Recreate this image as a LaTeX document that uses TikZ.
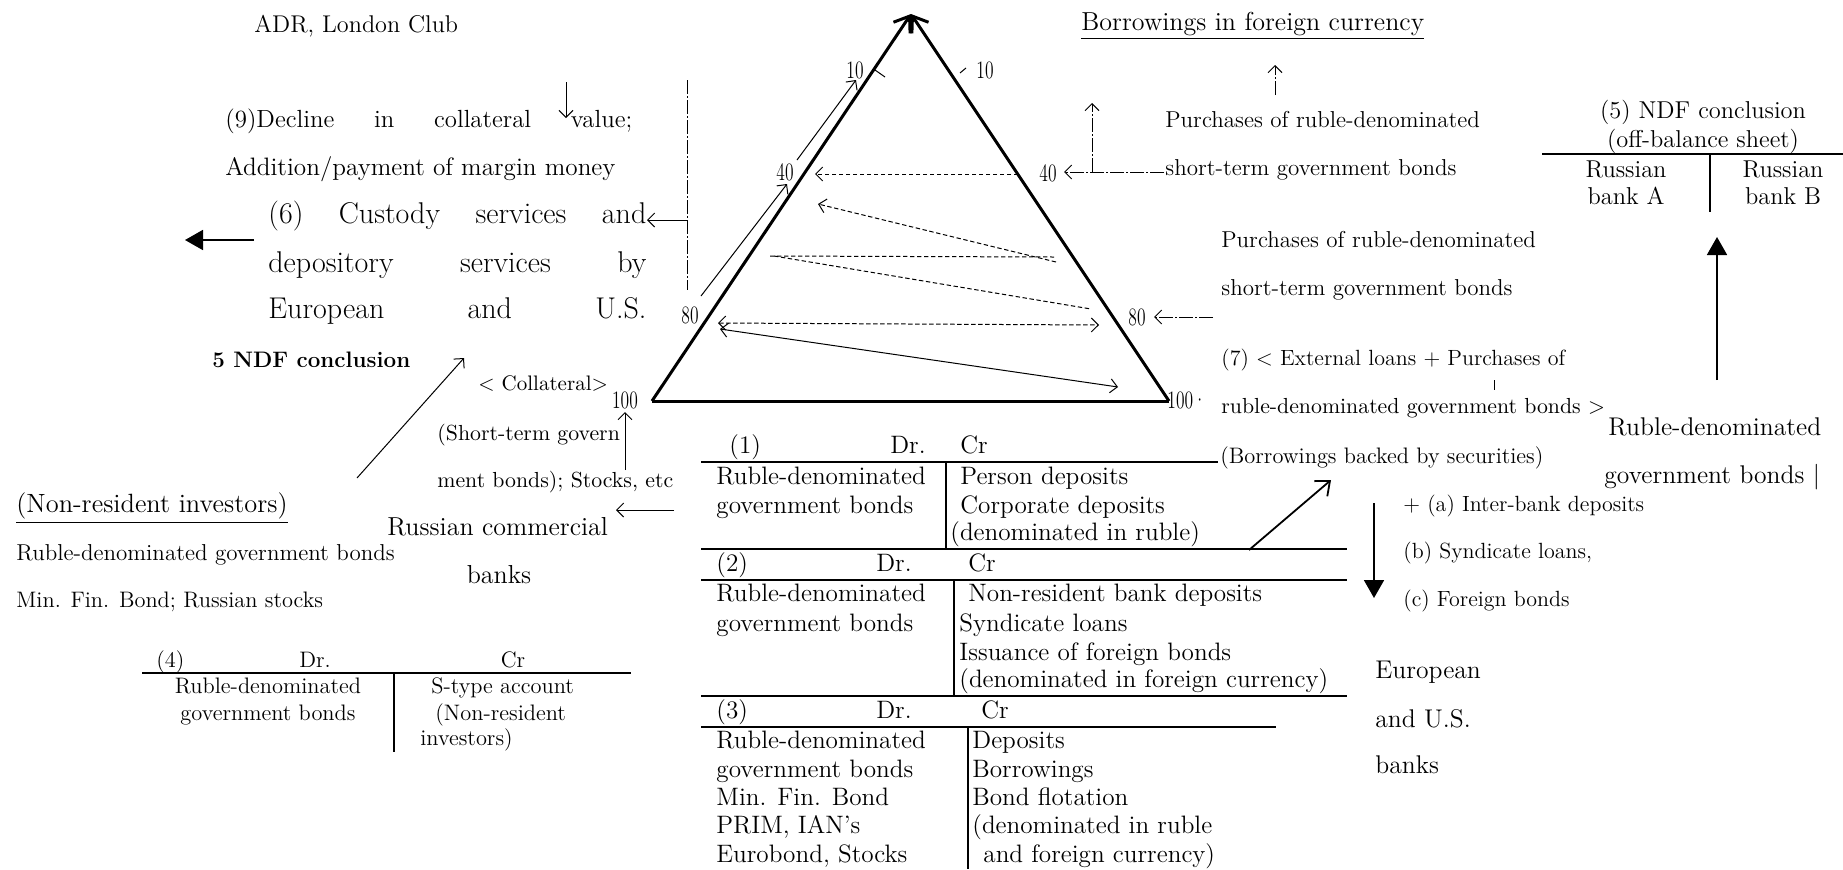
\documentclass[tikz,border=0pt]{standalone}
\usepackage{amssymb,amsmath}
\usepackage{graphicx}
\usepackage{tikz}
\usetikzlibrary{calc}
\usetikzlibrary{arrows.meta}

\newcommand{\fs}[1]{\fontsize{#1}{#1}\selectfont}
\newcommand{\tnum}[1]{\scalebox{0.7}[1]{#1}}
\newcommand{\jline}[2]{\makebox[#1][s]{#2}}

\begin{document}
\begin{tikzpicture}[x=0.5pt,y=-0.5pt,>={Straight Barb[length=3.5pt,width=7pt]},
	txt/.style={inner sep=0pt,anchor=west,text height=0.72em,text depth=0.22em,font=\fs{12.6}},
	sml/.style={txt,font=\fs{11.2}},
	numlab/.style={inner sep=0pt,font=\fs{12.5}},
	fine/.style={line width=0.5pt},
	dsh/.style={line width=0.5pt,dash pattern=on 2.2pt off 1.3pt},
	dshdot/.style={line width=0.5pt,dash pattern=on 7pt off 1pt on 1pt off 1pt},
	rule/.style={line width=1.1pt},
	tri/.style={line width=1.5pt},
	fat/.style={line width=0.9pt,-{Triangle[length=9pt,width=10pt]}}]
		\useasboundingbox (0,0) rectangle (1843,869);
		% triangle
		\coordinate (A) at (911,14);
		\coordinate (B) at (652,401);
		\coordinate (C) at (1169,401);
		\draw[tri,-{Straight Barb[length=7pt,width=10pt]}] (B)--(A);
		\draw[tri,-{Straight Barb[length=7pt,width=10pt]}] (C)--(A);
		\draw[tri] (B)--(C);
		\node[numlab] (l10) at (855,70) {\tnum{10}};
		\node[numlab] (r10) at (985,70) {\tnum{10}};
		\node[numlab] (l40) at (785,172) {\tnum{40}};
		\node[numlab] (r40) at (1048,173) {\tnum{40}};
		\node[numlab] (l80) at (690,315) {\tnum{80}};
		\node[numlab] (r80) at (1137,317) {\tnum{80}};
		\node[numlab] (l100) at (625,400) {\tnum{100}};
		\node[numlab] (r100) at (1187,400) {\tnum{100·}};
		\coordinate (T1) at (875,70);
		\coordinate (T2) at (885,77);
		\coordinate (T3) at (960,73);
		\coordinate (T4) at (966,68);
		\draw[fine] (T1)--(T2);
		\draw[fine] (T3)--(T4);
		% moves inside the triangle
		\coordinate (D1) at (701,296);
		\coordinate (D2) at (787,184);
		\coordinate (D3) at (797,160);
		\coordinate (D4) at (856,80);
		\draw[fine,->] (D1)--(D2);
		\draw[fine,->] (D3)--(D4);
		\coordinate (E1) at (1018,174);
		\coordinate (E2) at (815,174);
		\coordinate (E3) at (1056,262);
		\coordinate (E4) at (818,204);
		\coordinate (E5) at (770,256);
		\coordinate (E6) at (1054,257);
		\coordinate (E7) at (774,256);
		\coordinate (E8) at (1091,309);
		\coordinate (E9) at (718,323);
		\coordinate (E10) at (1099,325);
		\draw[dsh,->] (E1)--(E2);
		\draw[dsh,->] (E3)--(E4);
		\draw[dsh] (E5)--(E6);
		\draw[dsh] (E7)--(E8);
		\draw[dsh,<->] (E9)--(E10);
		\coordinate (F1) at (720,329);
		\coordinate (F2) at (1118,387);
		\draw[fine,<->] (F1)--(F2);
		% right of the triangle
		\coordinate (G1) at (1164,172);
		\coordinate (G2) at (1064,172);
		\coordinate (G3) at (1092,172);
		\coordinate (G4) at (1092,103);
		\draw[dshdot,->] (G1)--(G2);
		\draw[dshdot,->] (G3)--(G4);
		\coordinate (G5) at (1213,317);
		\coordinate (G6) at (1154,317);
		\draw[dshdot,->] (G5)--(G6);
		\coordinate (G7) at (1275,95);
		\coordinate (G8) at (1275,65);
		\draw[dshdot,->] (G7)--(G8);
		\node[txt,font=\fs{13}] (borrow) at (1081,25) {\underline{Borrowings in foreign currency}};
		\node[txt,font=\fs{11.5}] (buy1) at (1165,122) {Purchases of ruble-denominated};
		\node[txt,font=\fs{11.5}] (buy1b) at (1165,170) {short-term government bonds};
		\node[txt,font=\fs{11.5}] (buy2) at (1221,242) {Purchases of ruble-denominated};
		\node[txt,font=\fs{11.5}] (buy2b) at (1221,290) {short-term government bonds};
		\node[txt,font=\fs{11}] (ext) at (1221,360) {(7) < External loans + Purchases of};
		\node[txt,font=\fs{10.9}] (extb) at (1221,408) {ruble-denominated government bonds >};
		\node[sml] (backed) at (1220,458) {(Borrowings backed by securities)};
		\coordinate (K1) at (1494,380);
		\coordinate (K2) at (1494,390);
		\draw[fine] (K1)--(K2);
		% left of the triangle
		\node[txt,font=\fs{12.1}] (adr) at (254,27) {ADR, London Club};
		\node[txt,font=\fs{12.4}] (decl) at (225,122) {\jline{203.5pt}{(9)Decline in collateral value;}};
		\node[txt,font=\fs{12.6}] (marg) at (225,170) {Addition/payment of margin money};
		\node[txt,font=\fs{15}] (cust1) at (268,218) {\jline{189pt}{(6) Custody services and}};
		\node[txt,font=\fs{15}] (cust2) at (268,267) {\jline{189pt}{depository services by}};
		\node[txt,font=\fs{15}] (cust3) at (268,313) {\jline{189pt}{European and U.S.}};
		\node[txt,font=\fs{11.2}\bfseries] (ndf) at (212,362) {5 NDF conclusion};
		\coordinate (H1) at (566,82);
		\coordinate (H2) at (566,118);
		\draw[fine,->] (H1)--(H2);
		\coordinate (H3) at (687,80);
		\coordinate (H4) at (687,290);
		\coordinate (H5) at (687,220);
		\coordinate (H6) at (647,220);
		\draw[dshdot] (H3)--(H4);
		\draw[fine,->] (H5)--(H6);
		\coordinate (H7) at (254,240);
		\coordinate (H8) at (185,240);
		\draw[fat] (H7)--(H8);
		\node[txt,font=\fs{10.5}] (coll) at (478,385) {< Collateral>};
		\node[txt,font=\fs{10.9}] (short) at (437,435) {(Short-term govern};
		\node[txt,font=\fs{10.9}] (stock) at (437,482) {ment bonds); Stocks, etc};
		\coordinate (H9) at (625,470);
		\coordinate (H10) at (625,412);
		\draw[fine,->] (H9)--(H10);
		\coordinate (H11) at (674,510);
		\coordinate (H12) at (616,510);
		\draw[fine,->] (H11)--(H12);
		\coordinate (H13) at (357,478);
		\coordinate (H14) at (464,358);
		\draw[fine,->] (H13)--(H14);
		\node[txt,font=\fs{13}] (rcb) at (387,530) {Russian commercial};
		\node[txt,font=\fs{13},anchor=center] (rcb2) at (499,578) {banks};
		\node[txt,font=\fs{13.2}] (nonres) at (16,507) {\underline{(Non-resident investors)}};
		\node[sml,font=\fs{11.5}] (nr1) at (16,555) {Ruble-denominated government bonds};
		\node[sml] (nr2) at (16,602) {Min. Fin. Bond; Russian stocks};
		% table (4)
		\node[sml] (h4) at (156,662) {(4)};
		\node[sml,anchor=center] (h4dr) at (315,662) {Dr.};
		\node[sml,anchor=center] (h4cr) at (513,662) {Cr};
		\draw[rule] (142,673)--(631,673);
		\draw[rule] (394,673)--(394,752);
		\node[sml,anchor=center] (a4l1) at (268,688) {Ruble-denominated};
		\node[sml,anchor=center] (a4l2) at (268,715) {government bonds};
		\node[sml] (a4r1) at (431,688) {S-type account};
		\node[sml] (a4r2) at (435,715) {(Non-resident};
		\node[sml] (a4r3) at (420,740) {investors)};
		% table (1)
		\node[txt] (h1) at (729,448) {(1)};
		\node[txt,anchor=center] (h1dr) at (908,448) {Dr.};
		\node[txt] (h1cr) at (960,448) {Cr};
		\draw[rule] (701,462)--(1218,462);
		\draw[rule] (946,462)--(946,549);
		\node[txt] (a1l1) at (716,479) {Ruble-denominated};
		\node[txt] (a1l2) at (716,508) {government bonds};
		\node[txt] (a1r1) at (960,479) {Person deposits};
		\node[txt] (a1r2) at (960,508) {Corporate deposits};
		\node[txt] (a1r3) at (950,535) {(denominated in ruble)};
		\draw[rule] (701,549)--(1347,549);
		% table (2)
		\node[txt] (h2) at (716,566) {(2)};
		\node[txt,anchor=center] (h2dr) at (894,566) {Dr.};
		\node[txt] (h2cr) at (968,566) {Cr};
		\draw[rule] (701,580)--(1347,580);
		\draw[rule] (954,580)--(954,696);
		\node[txt] (a2l1) at (716,596) {Ruble-denominated};
		\node[txt] (a2l2) at (716,626) {government bonds};
		\node[txt] (a2r1) at (968,596) {Non-resident bank deposits};
		\node[txt] (a2r2) at (959,626) {Syndicate loans};
		\node[txt] (a2r3) at (959,655) {Issuance of foreign bonds};
		\node[txt] (a2r4) at (959,682) {(denominated in foreign currency)};
		\draw[rule] (701,696)--(1347,696);
		% table (3)
		\node[txt] (h3) at (716,713) {(3)};
		\node[txt,anchor=center] (h3dr) at (894,713) {Dr.};
		\node[txt] (h3cr) at (981,713) {Cr};
		\draw[rule] (701,727)--(1276,727);
		\draw[rule] (968,727)--(968,869);
		\node[txt] (a3l1) at (716,743) {Ruble-denominated};
		\node[txt] (a3l2) at (716,772) {government bonds};
		\node[txt] (a3l3) at (716,800) {Min. Fin. Bond};
		\node[txt] (a3l4) at (716,828) {PRIM, IAN’s};
		\node[txt] (a3l5) at (716,857) {Eurobond, Stocks};
		\node[txt] (a3r1) at (972,743) {Deposits};
		\node[txt] (a3r2) at (972,772) {Borrowings};
		\node[txt] (a3r3) at (972,800) {Bond flotation};
		\node[txt] (a3r4) at (972,828) {(denominated in ruble};
		\node[txt] (a3r5) at (983,857) {and foreign currency)};
		% European and U.S. banks
		\coordinate (M1) at (1249,550);
		\coordinate (M2) at (1331,480);
		\draw[line width=0.9pt,-{Straight Barb[length=6pt,width=10pt]}] (M1)--(M2);
		\coordinate (M3) at (1374,503);
		\coordinate (M4) at (1374,598);
		\draw[fat] (M3)--(M4);
		\node[txt,font=\fs{11}] (ib1) at (1403,506) {+ (a) Inter-bank deposits};
		\node[txt,font=\fs{11}] (ib2) at (1403,553) {(b) Syndicate loans,};
		\node[txt,font=\fs{11}] (ib3) at (1403,601) {(c) Foreign bonds};
		\node[txt,font=\fs{12.8}] (eu1) at (1375,673) {European};
		\node[txt,font=\fs{12.8}] (eu2) at (1375,722) {and U.S.};
		\node[txt,font=\fs{12.8}] (eu3) at (1375,768) {banks};
		% (5) NDF
		\node[txt,font=\fs{12.2},anchor=center] (n5a) at (1703,113) {(5) NDF conclusion};
		\node[txt,font=\fs{12.2},anchor=center] (n5b) at (1703,142) {(off-balance sheet)};
		\draw[rule] (1542,154)--(1843,154);
		\draw[rule] (1710,154)--(1710,212);
		\node[txt,font=\fs{12.2},anchor=center] (bA1) at (1626,172) {Russian};
		\node[txt,font=\fs{12.2},anchor=center] (bA2) at (1626,199) {bank A};
		\node[txt,font=\fs{12.2},anchor=center] (bB1) at (1783,172) {Russian};
		\node[txt,font=\fs{12.2},anchor=center] (bB2) at (1783,199) {bank B};
		\coordinate (N1) at (1717,380);
		\coordinate (N2) at (1717,237);
		\draw[fat] (N1)--(N2);
		\node[txt,font=\fs{12.8}] (rdb1) at (1608,430) {Ruble-denominated};
		\node[txt,font=\fs{12.8}] (rdb2) at (1604,478) {government bonds |};
\end{tikzpicture}
\end{document}
